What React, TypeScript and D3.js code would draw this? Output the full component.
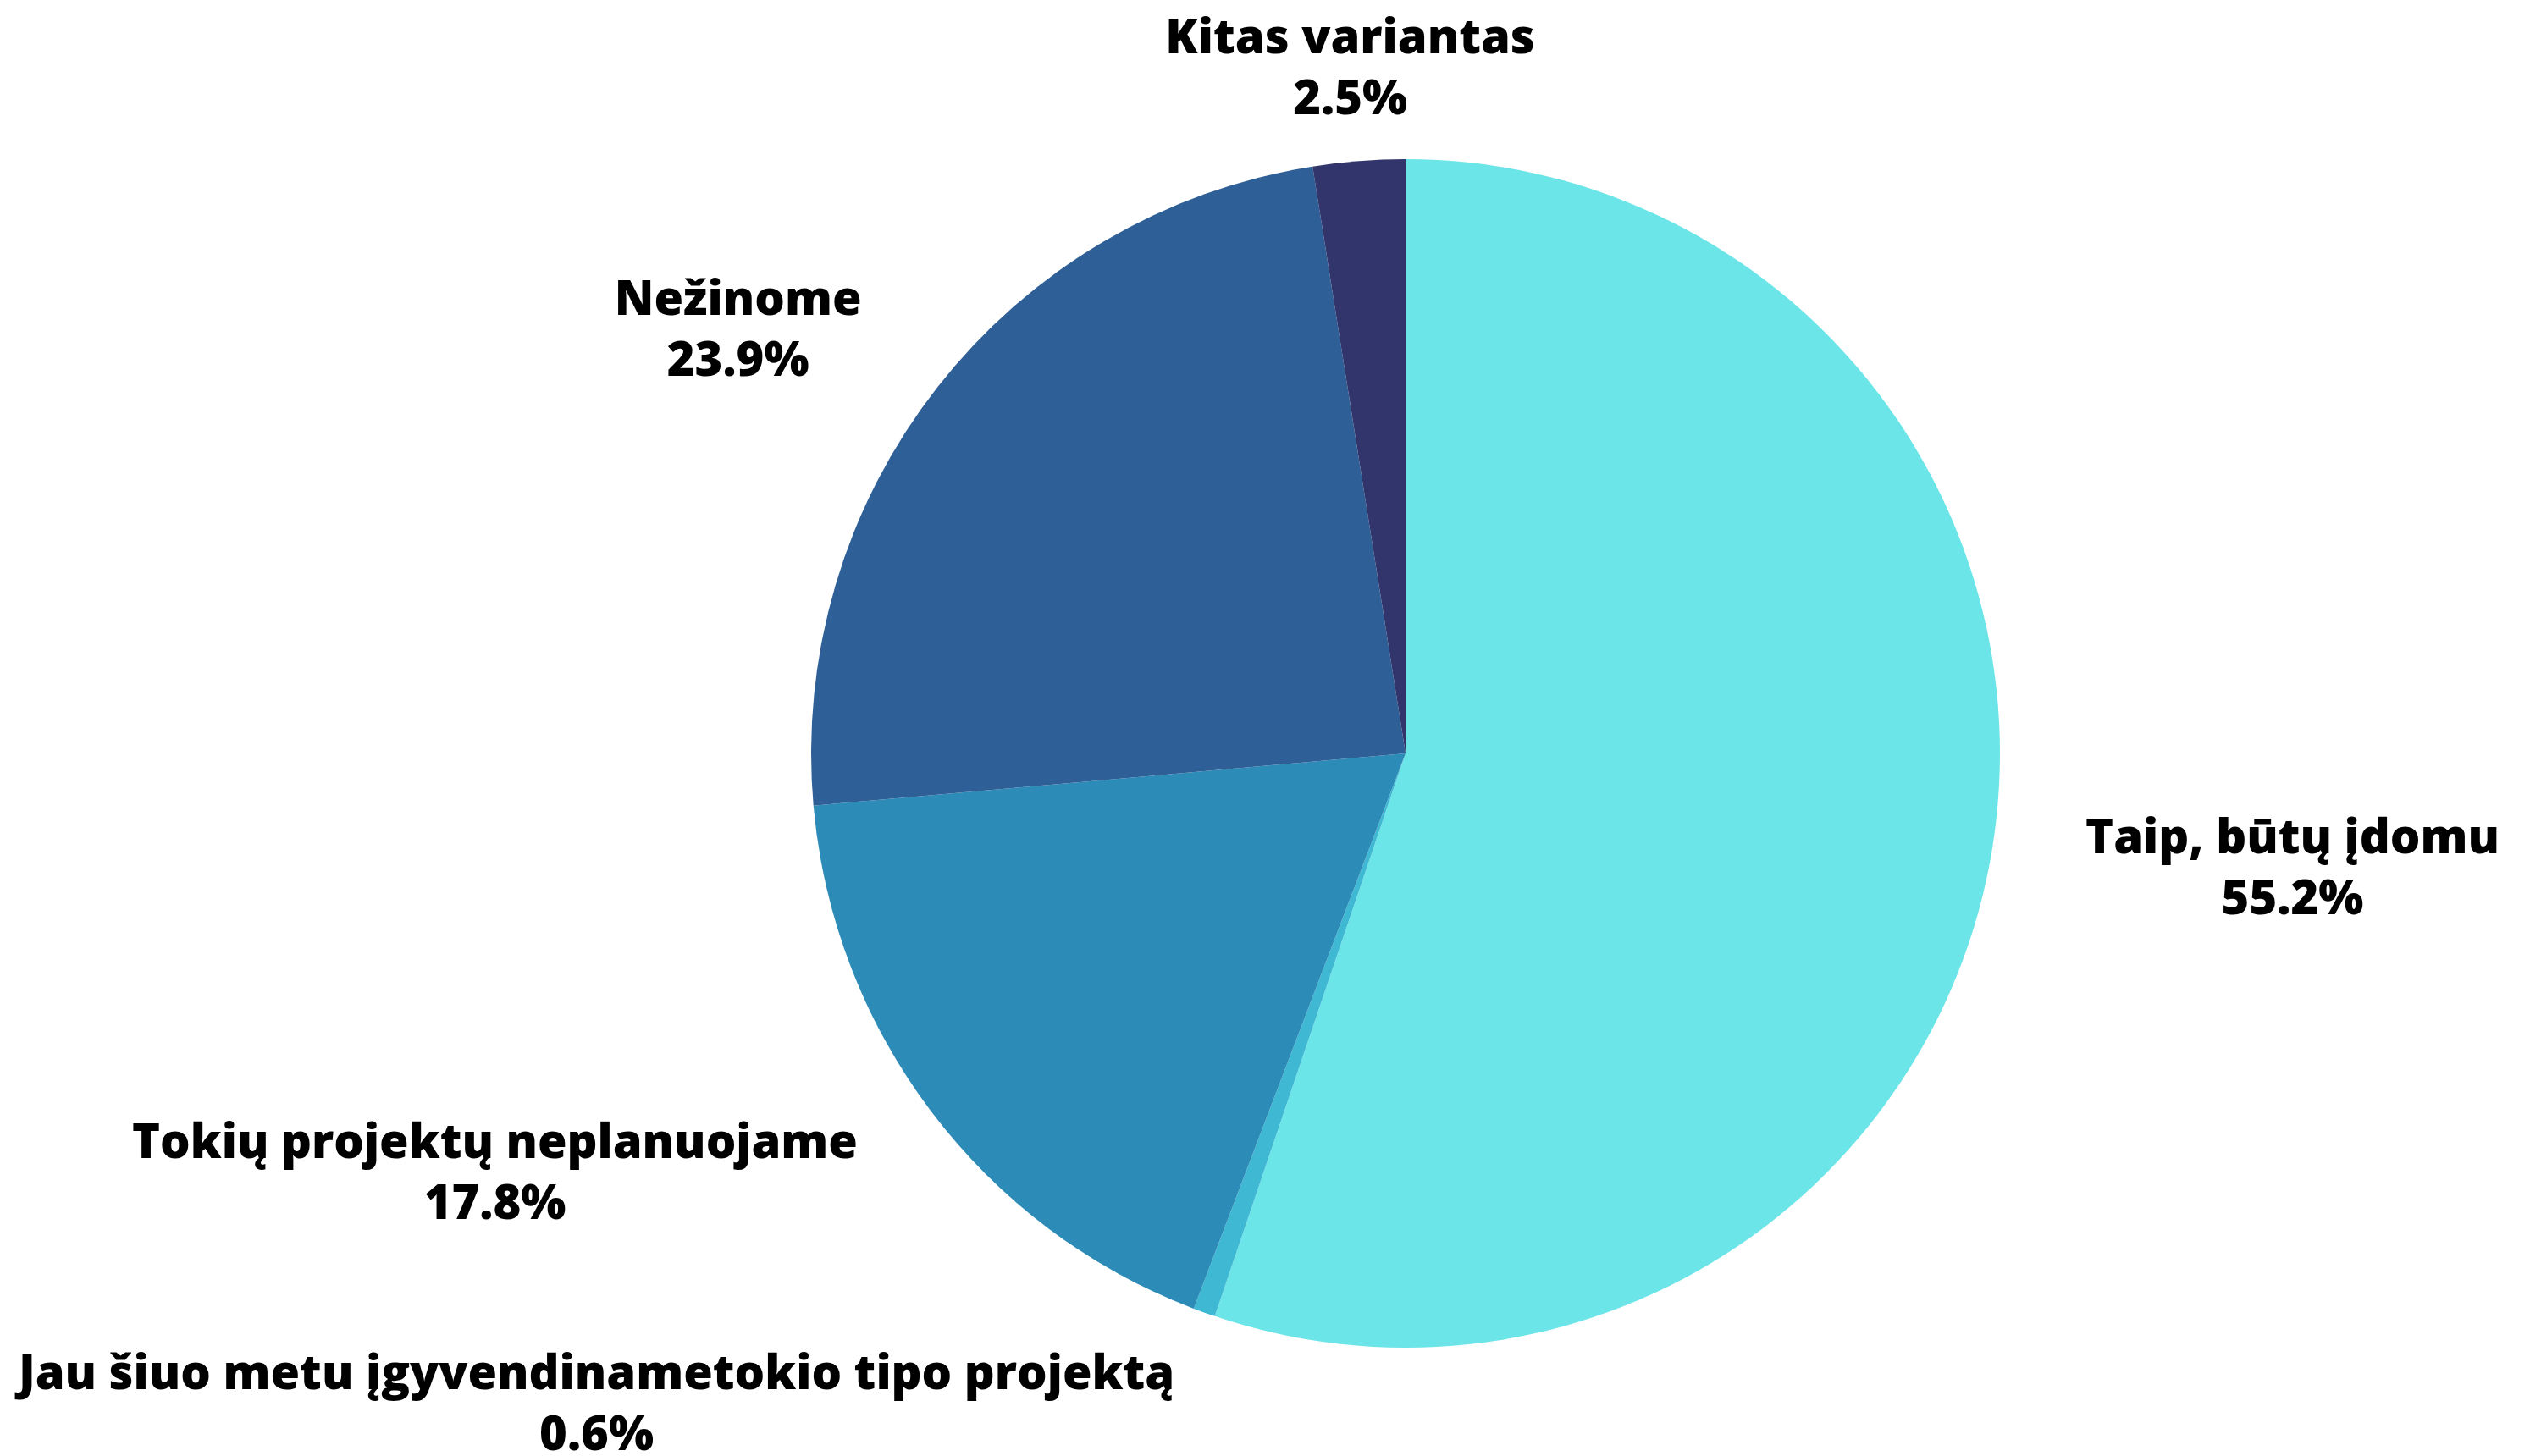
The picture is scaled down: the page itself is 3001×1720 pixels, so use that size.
import React from "react";
import * as d3 from "d3";

const categories = [
  "Taip, būtų įdomu",
  "Jau šiuo metu įgyvendinametokio tipo projektą",
  "Tokių projektų neplanuojame",
  "Nežinome",
  "Kitas variantas",
];
const values = [55.2, 0.6, 17.8, 23.9, 2.5];
const colors = ["#6ce5e8", "#3fb8d4", "#2d8bb8", "#2e5f96", "#31356c"];

// label layout: angle (deg, clockwise from top) and distance (in radii)
const labelAngles = [97.2, 231.3, 245.4, 302.6, 355.4];
const labelDists = [1.504, 1.744, 1.685, 1.333, 1.162];

const W = 3001;
const H = 1720;
const cx = 1660;
const cy = 890;
const R = 702;

export default function App() {
  const data = categories.map((c, i) => ({ c, v: values[i], i }));
  const pie = d3
    .pie<any>()
    .sort(null)
    .value((d: any) => d.v)
    .startAngle(0)
    .endAngle(2 * Math.PI);
  const arcs = pie(data);
  const arc = d3.arc<any>().innerRadius(0).outerRadius(R);

  return (
    <svg
      width={W}
      height={H}
      style={{ position: "absolute", left: 0, top: 0, display: "block", background: "#fff" }}
      fontFamily="'Open Sans', sans-serif"
    >
      <g transform={`translate(${cx},${cy})`}>
        {arcs.map((a, i) => (
          <path key={i} d={arc(a) as string} fill={colors[i]} />
        ))}
        {arcs.map((a, i) => {
          const ang = (labelAngles[i] * Math.PI) / 180;
          const d = labelDists[i] * R;
          const x = d * Math.sin(ang);
          const y = -d * Math.cos(ang);
          return (
            <g key={"l" + i} transform={`translate(${x},${y})`}>
              <text
                textAnchor="middle"
                dominantBaseline="central"
                y={-36}
                fontSize={56}
                fontWeight={800}
                fill="#000"
              >
                {categories[i]}
              </text>
              <text
                textAnchor="middle"
                dominantBaseline="central"
                y={36}
                fontSize={56}
                fontWeight={800}
                fill="#000"
              >
                {values[i].toFixed(1) + "%"}
              </text>
            </g>
          );
        })}
      </g>
    </svg>
  );
}
